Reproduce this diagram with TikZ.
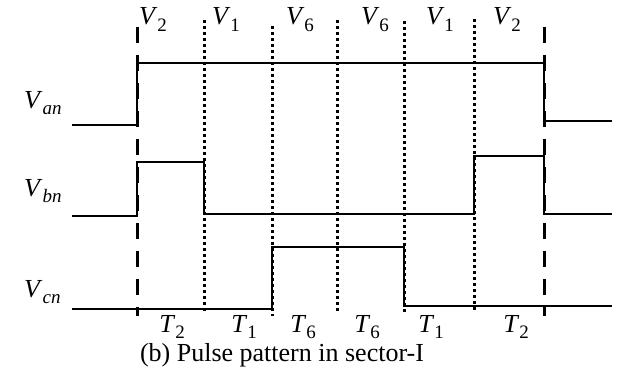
\documentclass[tikz,border=0pt]{standalone}
\usepackage{fontspec}
\setmainfont{Liberation Serif}
\newcommand{\sgl}[2]{\textit{#1}\raisebox{-0.24em}{\fontsize{19}{19}\selectfont #2}}
\tikzset{
  sig/.style={line width=1.6pt},
  dashv/.style={line width=3pt, dash pattern=on 16pt off 12pt},
  dotv/.style={line width=3pt, dash pattern=on 3pt off 3pt},
  lbl/.style={inner sep=0pt, font=\fontsize{26}{28}\selectfont, anchor=base},
}
\begin{document}
\begin{tikzpicture}[x=1pt,y=-1pt]
\useasboundingbox (0,0) rectangle (618,369);
% vertical division lines
\draw[dashv] (137,27) -- (137,316);
\draw[dashv] (544,27) -- (544,316);
\draw[dotv] (204,20) -- (204,312);
\draw[dotv] (272,26) -- (272,316);
\draw[dotv] (337,20) -- (337,312);
\draw[dotv] (404,21) -- (404,312);
\draw[dotv] (474,19) -- (474,310);
% Van
\draw[sig] (72,125) -- (137,125) -- (137,63) -- (544,63) -- (544,121) -- (612,121);
% Vbn
\draw[sig] (72,216) -- (137,216) -- (137,162) -- (204,162) -- (204,214) -- (474,214) -- (474,156) -- (544,156) -- (544,214) -- (612,214);
% Vcn
\draw[sig] (72,309) -- (272,309) -- (272,247) -- (404,247) -- (404,306) -- (612,306);
% signal labels
\node[lbl, anchor=base west] (lan) at (24,108) {\sgl{V}{\itshape an}};
\node[lbl, anchor=base west] (lbn) at (24,196) {\sgl{V}{\itshape bn}};
\node[lbl, anchor=base west] (lcn) at (24,297) {\sgl{V}{\itshape cn}};
% top vector labels
\node[lbl] (v2a) at (153,25) {\sgl{V}{2}};
\node[lbl] (v1a) at (226,25) {\sgl{V}{1}};
\node[lbl] (v6a) at (300,25) {\sgl{V}{6}};
\node[lbl] (v6b) at (375,25) {\sgl{V}{6}};
\node[lbl] (v1b) at (440,25) {\sgl{V}{1}};
\node[lbl] (v2b) at (507,25) {\sgl{V}{2}};
% bottom time labels
\node[lbl] (t2a) at (172,332) {\sgl{T}{2}};
\node[lbl] (t1a) at (244,332) {\sgl{T}{1}};
\node[lbl] (t6a) at (303,332) {\sgl{T}{6}};
\node[lbl] (t6b) at (367,332) {\sgl{T}{6}};
\node[lbl] (t1b) at (431,332) {\sgl{T}{1}};
\node[lbl] (t2b) at (516,332) {\sgl{T}{2}};
% caption
\node[lbl] (cap) at (282,361) {(b) Pulse pattern in sector-I};
\end{tikzpicture}
\end{document}
